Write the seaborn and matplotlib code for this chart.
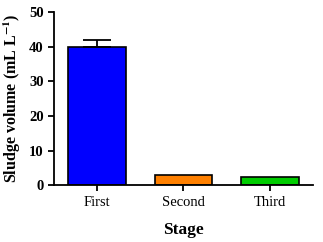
import matplotlib
matplotlib.use("Agg")
import matplotlib.pyplot as plt
import seaborn as sns
import pandas as pd

# data
stages = ["First", "Second", "Third"]
volume = [40.0, 2.9, 2.4]
err = [2.0, 0.0, 0.0]
colors = ["#0000FF", "#FF8000", "#00CC00"]

sns.set_style("ticks", {"text.color": "black", "axes.labelcolor": "black",
                        "xtick.color": "black", "ytick.color": "black",
                        "axes.edgecolor": "black"})
plt.rcParams['font.family'] = ['Liberation Serif', 'DejaVu Serif']
plt.rcParams['mathtext.fontset'] = 'stix'

df = pd.DataFrame({"Stage": stages, "Volume": volume})

fig = plt.figure(figsize=(3.23, 2.42), dpi=100)
ax = fig.add_axes([0.167, 0.235, 0.802, 0.715])
sns.barplot(data=df, x="Stage", y="Volume", hue="Stage", palette=colors,
            saturation=1, width=0.67, edgecolor="black", linewidth=1.2,
            legend=False, ax=ax)
# upper error bars only where there is one
idx = [i for i, e in enumerate(err) if e > 0]
ax.errorbar(idx, [volume[i] for i in idx],
            yerr=[[0] * len(idx), [err[i] for i in idx]], fmt="none",
            ecolor="black", elinewidth=1.3, capsize=10, capthick=1.3)

ax.set_xlim(-0.5, 2.5)
ax.set_ylim(0, 50)
ax.set_yticks([0, 10, 20, 30, 40, 50])
ax.set_ylabel("Sludge volume (mL L$^{\\mathbf{-1}}$)", fontsize=11.5, fontweight="bold")
ax.set_xlabel("Stage", fontsize=12.5, fontweight="bold", labelpad=10)
ax.tick_params(axis="both", width=1.3, length=4, labelsize=10.5)
for lab in ax.get_yticklabels():
    lab.set_fontweight("bold")
sns.despine(ax=ax)
for s in ["left", "bottom"]:
    ax.spines[s].set_linewidth(1.3)

fig.savefig("out.png", dpi=100)
